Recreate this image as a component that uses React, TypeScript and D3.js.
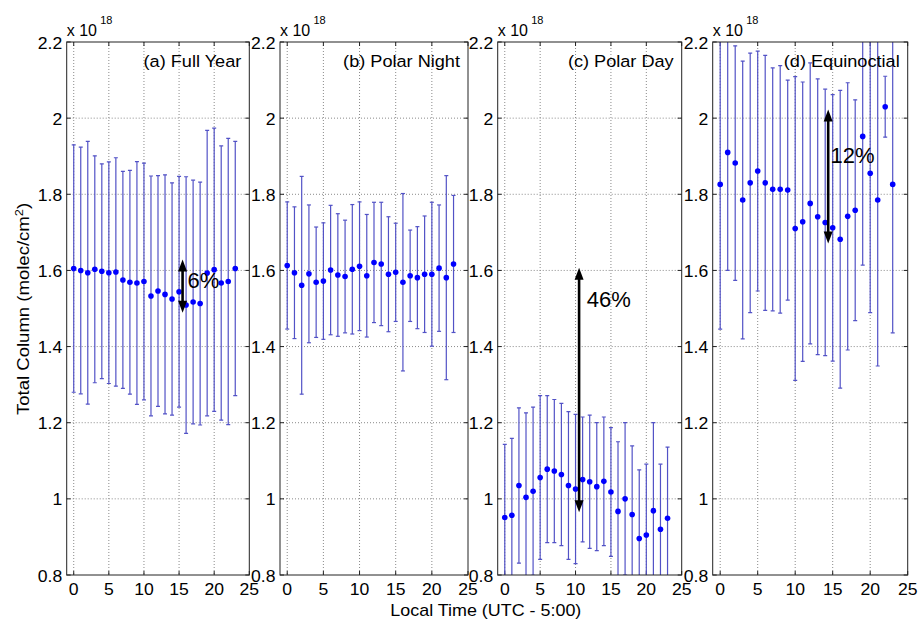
import React from "react";
import * as d3 from "d3";

const hours = [0, 1, 2, 3, 4, 5, 6, 7, 8, 9, 10, 11, 12, 13, 14, 15, 16, 17, 18, 19, 20, 21, 22, 23];

const fullYearMean = [1.605, 1.6, 1.594, 1.603, 1.598, 1.594, 1.596, 1.575, 1.569, 1.567, 1.571, 1.533, 1.546, 1.537, 1.525, 1.544, 1.509, 1.517, 1.513, 1.593, 1.602, 1.567, 1.571, 1.605];
const fullYearErr = [0.325, 0.324, 0.345, 0.298, 0.282, 0.291, 0.3, 0.285, 0.294, 0.319, 0.311, 0.315, 0.303, 0.314, 0.305, 0.303, 0.337, 0.32, 0.319, 0.375, 0.372, 0.36, 0.376, 0.334];

const polarNightMean = [1.613, 1.594, 1.561, 1.591, 1.569, 1.572, 1.601, 1.588, 1.584, 1.603, 1.611, 1.586, 1.621, 1.617, 1.59, 1.595, 1.569, 1.586, 1.581, 1.59, 1.59, 1.606, 1.581, 1.617];
const polarNightErr = [0.167, 0.173, 0.286, 0.181, 0.145, 0.153, 0.17, 0.161, 0.148, 0.17, 0.169, 0.161, 0.158, 0.162, 0.151, 0.129, 0.233, 0.12, 0.134, 0.153, 0.189, 0.166, 0.268, 0.18];

const polarDayMean = [0.951, 0.957, 1.035, 1.004, 1.02, 1.056, 1.078, 1.073, 1.064, 1.035, 1.026, 1.051, 1.045, 1.032, 1.046, 1.018, 0.967, 1.0, 0.959, 0.896, 0.905, 0.969, 0.92, 0.949];
const polarDayErr = [0.192, 0.202, 0.204, 0.222, 0.221, 0.215, 0.193, 0.188, 0.187, 0.194, 0.196, 0.164, 0.175, 0.168, 0.169, 0.169, 0.183, 0.2, 0.18, 0.18, 0.186, 0.231, 0.171, 0.187];

const equinoxMean = [1.826, 1.91, 1.882, 1.785, 1.83, 1.861, 1.83, 1.813, 1.813, 1.811, 1.71, 1.728, 1.776, 1.741, 1.726, 1.712, 1.682, 1.742, 1.758, 1.952, 1.855, 1.785, 2.03, 1.826];
const equinoxErr = [0.38, 0.31, 0.308, 0.365, 0.341, 0.315, 0.335, 0.319, 0.325, 0.289, 0.399, 0.367, 0.369, 0.362, 0.35, 0.35, 0.391, 0.351, 0.29, 0.338, 0.366, 0.436, 0.08, 0.39];

const panelTitles = ["(a) Full Year", "(b) Polar Night", "(c) Polar Day", "(d) Equinoctial"];
const panelMeans = [fullYearMean, polarNightMean, polarDayMean, equinoxMean];
const panelErrs = [fullYearErr, polarNightErr, polarDayErr, equinoxErr];

const annotationLabels = ["6%", "", "46%", "12%"];
const arrowX = [15.5, 0, 10.5, 14.4];
const arrowTop = [1.629, 0, 1.607, 2.023];
const arrowBottom = [1.489, 0, 0.965, 1.671];
const annotationX = [16.2, 0, 11.6, 14.7];
const annotationY = [1.553, 0, 1.504, 1.881];

const xTicks = [0, 5, 10, 15, 20, 25];
const yTicks = [0.8, 1, 1.2, 1.4, 1.6, 1.8, 2, 2.2];
const xDomain = [-1, 25];
const yDomain = [0.8, 2.2];

const FONT = "'Liberation Sans', Arial, Helvetica, sans-serif";
const TOP = 42;
const BOTTOM = 575;
const frames = [
  { left: 66.7, right: 249.3 },
  { left: 280, right: 468 },
  { left: 497.7, right: 681.7 },
  { left: 712.7, right: 907.7 },
];

function T({ x, y, size, sx = 1, anchor = "start", rotate = 0, children }: any) {
  return (
    <g transform={`translate(${x},${y}) rotate(${rotate}) scale(${sx},1)`}>
      <text fontSize={size} textAnchor={anchor} fontFamily={FONT} fill="#000">
        {children}
      </text>
    </g>
  );
}

function Panel({ idx }: { idx: number }) {
  const f = frames[idx];
  const x = d3.scaleLinear().domain(xDomain).range([f.left, f.right]);
  const y = d3.scaleLinear().domain(yDomain).range([BOTTOM, TOP]);
  const means = panelMeans[idx];
  const errs = panelErrs[idx];
  const clipId = `clip${idx}`;
  const tickLen = 4;
  return (
    <g>
      <defs>
        <clipPath id={clipId}>
          <rect x={f.left} y={TOP} width={f.right - f.left} height={BOTTOM - TOP} />
        </clipPath>
      </defs>
      <rect x={f.left} y={TOP} width={f.right - f.left} height={BOTTOM - TOP} fill="#fff" />
      {/* grid */}
      {xTicks
        .filter((t) => x(t) < f.right - 1)
        .map((t) => (
          <line key={"gx" + t} x1={x(t)} x2={x(t)} y1={TOP} y2={BOTTOM} stroke="#8a8a8a" strokeWidth={1} strokeDasharray="1,2" />
        ))}
      {yTicks
        .filter((t) => y(t) > TOP + 1 && y(t) < BOTTOM - 1)
        .map((t) => (
          <line key={"gy" + t} x1={f.left} x2={f.right} y1={y(t)} y2={y(t)} stroke="#8a8a8a" strokeWidth={1} strokeDasharray="1,2" />
        ))}
      {/* ticks */}
      {xTicks.map((t) => (
        <g key={"tx" + t}>
          <line x1={x(t)} x2={x(t)} y1={BOTTOM} y2={BOTTOM - tickLen} stroke="#222" />
          <line x1={x(t)} x2={x(t)} y1={TOP} y2={TOP + tickLen} stroke="#222" />
        </g>
      ))}
      {yTicks.map((t) => (
        <g key={"ty" + t}>
          <line x1={f.left} x2={f.left + tickLen} y1={y(t)} y2={y(t)} stroke="#222" />
          <line x1={f.right} x2={f.right - tickLen} y1={y(t)} y2={y(t)} stroke="#222" />
        </g>
      ))}
      {/* error bars */}
      <g clipPath={`url(#${clipId})`}>
        {hours.map((h, i) => {
          const cx = x(h);
          const yHi = y(means[i] + errs[i]);
          const yLo = y(means[i] - errs[i]);
          return (
            <g key={"e" + h} stroke="#5252c6" strokeWidth={1.2}>
              <line x1={cx} x2={cx} y1={yHi} y2={yLo} />
              <line x1={cx - 2} x2={cx + 2} y1={yHi} y2={yHi} />
              <line x1={cx - 2} x2={cx + 2} y1={yLo} y2={yLo} />
            </g>
          );
        })}
        {hours.map((h, i) => (
          <circle key={"p" + h} cx={x(h)} cy={y(means[i])} r={2.8} fill="#0000ff" />
        ))}
      </g>
      {/* frame */}
      <rect x={f.left} y={TOP} width={f.right - f.left} height={BOTTOM - TOP} fill="none" stroke="#222" strokeWidth={1} />
      {/* tick labels */}
      {xTicks.map((t) => (
        <T key={"lx" + t} x={x(t)} y={595} size={16} sx={1.1} anchor="middle">
          {String(t)}
        </T>
      ))}
      {yTicks.map((t) => (
        <T key={"ly" + t} x={f.left - 4.5} y={y(t) + 6.5} size={16} sx={1.1} anchor="end">
          {d3.format("~g")(t)}
        </T>
      ))}
      {/* exponent */}
      <T x={f.left} y={35.7} size={16}>x 10</T>
      <T x={f.left + 33.5} y={24} size={11}>18</T>
      {/* title */}
      <T x={f.right - 8} y={67} size={16.5} sx={1.1} anchor="end">
        {panelTitles[idx]}
      </T>
      {/* annotation */}
      {annotationLabels[idx] !== "" && (
        <g>
          <line
            x1={x(arrowX[idx])}
            x2={x(arrowX[idx])}
            y1={y(arrowTop[idx]) + 10}
            y2={y(arrowBottom[idx]) - 10}
            stroke="#000"
            strokeWidth={2.6}
          />
          <polygon
            points={`${x(arrowX[idx])},${y(arrowTop[idx])} ${x(arrowX[idx]) - 4.5},${y(arrowTop[idx]) + 12} ${x(arrowX[idx]) + 4.5},${y(arrowTop[idx]) + 12}`}
            fill="#000"
          />
          <polygon
            points={`${x(arrowX[idx])},${y(arrowBottom[idx])} ${x(arrowX[idx]) - 4.5},${y(arrowBottom[idx]) - 12} ${x(arrowX[idx]) + 4.5},${y(arrowBottom[idx]) - 12}`}
            fill="#000"
          />
          <T x={x(annotationX[idx])} y={y(annotationY[idx])} size={22}>
            {annotationLabels[idx]}
          </T>
        </g>
      )}
    </g>
  );
}

export default function App() {
  return (
    <div style={{ position: "fixed", left: 0, top: 0 }}>
      <svg width={919} height={621} style={{ display: "block", background: "#fff" }}>
        <rect x={0} y={0} width={919} height={621} fill="#fff" />
        {[0, 1, 2, 3].map((i) => (
          <Panel key={i} idx={i} />
        ))}
        <T x={485.8} y={616} size={16} sx={1.12} anchor="middle">
          Local Time (UTC - 5:00)
        </T>
        <T x={28.5} y={309} size={16} sx={1.16} anchor="middle" rotate={-90}>
          <tspan>Total Column (molec/cm</tspan>
          <tspan fontSize={11} dy={-6}>2</tspan>
          <tspan dy={6}>)</tspan>
        </T>
      </svg>
    </div>
  );
}
